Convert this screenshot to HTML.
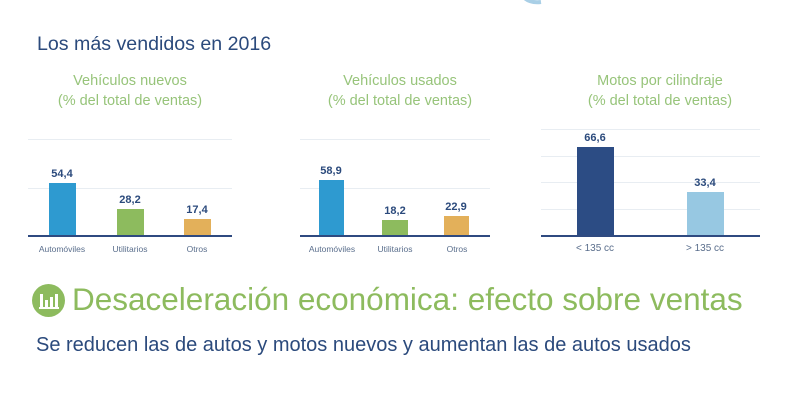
<!DOCTYPE html><html><head><meta charset="utf-8"><style>
body{margin:0;width:800px;height:400px;background:#fff;overflow:hidden;position:relative;font-family:"Liberation Sans",sans-serif}
.a{position:absolute;white-space:nowrap}
.st{color:#97c47a;font-size:14.5px;text-align:center;width:240px;line-height:20px}
.v{color:#2b4a7c;font-weight:bold;font-size:11px;text-align:center;width:40px}
.l{color:#5a6e8c;font-size:8.5px;text-align:center;width:70px}
.g{position:absolute;height:1px;background:#e8edf2}
.ax{position:absolute;height:2px;background:#2f4a80}
.b{position:absolute}
</style></head><body>
<svg class="a" style="left:515px;top:-12px" width="30" height="20"><path d="M4 2 Q10 16 26 14" stroke="#a9cfe6" stroke-width="4" fill="none"/></svg>
<div class="a" style="left:37px;top:33px;font-size:19.6px;color:#2b4a7c">Los más vendidos en 2016</div>
<div class="a st" style="left:10px;top:71px">Vehículos nuevos<br>(% del total de ventas)</div>
<div class="a st" style="left:280px;top:71px">Vehículos usados<br>(% del total de ventas)</div>
<div class="a st" style="left:540px;top:71px">Motos por cilindraje<br>(% del total de ventas)</div>

<div class="g" style="left:28px;top:139px;width:204px"></div><div class="g" style="left:28px;top:188px;width:204px"></div>
<div class="g" style="left:300px;top:139px;width:190px"></div><div class="g" style="left:300px;top:188px;width:190px"></div>
<div class="g" style="left:541px;top:129px;width:219px"></div><div class="g" style="left:541px;top:156px;width:219px"></div><div class="g" style="left:541px;top:182px;width:219px"></div><div class="g" style="left:541px;top:209px;width:219px"></div>

<div class="b" style="left:49px;top:183px;width:27px;height:53px;background:#2e9ad0"></div>
<div class="b" style="left:117px;top:209px;width:27px;height:27px;background:#8dbb5e"></div>
<div class="b" style="left:184px;top:219px;width:27px;height:17px;background:#e3b05a"></div>
<div class="b" style="left:319px;top:180px;width:25px;height:56px;background:#2e9ad0"></div>
<div class="b" style="left:382px;top:220px;width:26px;height:16px;background:#8dbb5e"></div>
<div class="b" style="left:444px;top:216px;width:25px;height:20px;background:#e3b05a"></div>
<div class="b" style="left:577px;top:147px;width:37px;height:89px;background:#2c4c84"></div>
<div class="b" style="left:687px;top:192px;width:37px;height:44px;background:#97c8e2"></div>

<div class="ax" style="left:28px;top:235px;width:204px"></div>
<div class="ax" style="left:300px;top:235px;width:190px"></div>
<div class="ax" style="left:541px;top:235px;width:219px"></div>

<div class="a v" style="left:42px;top:168px">54,4</div>
<div class="a v" style="left:110px;top:194px">28,2</div>
<div class="a v" style="left:177px;top:204px">17,4</div>
<div class="a v" style="left:311px;top:165px">58,9</div>
<div class="a v" style="left:375px;top:205px">18,2</div>
<div class="a v" style="left:436px;top:201px">22,9</div>
<div class="a v" style="left:575px;top:132px">66,6</div>
<div class="a v" style="left:685px;top:177px">33,4</div>

<div class="a l" style="left:27px;top:244px">Automóviles</div>
<div class="a l" style="left:95px;top:244px">Utilitarios</div>
<div class="a l" style="left:162px;top:244px">Otros</div>
<div class="a l" style="left:297px;top:244px">Automóviles</div>
<div class="a l" style="left:360px;top:244px">Utilitarios</div>
<div class="a l" style="left:422px;top:244px">Otros</div>
<div class="a l" style="left:560px;top:243px;font-size:10px">&lt; 135 cc</div>
<div class="a l" style="left:670px;top:243px;font-size:10px">&gt; 135 cc</div>

<svg class="a" style="left:32px;top:284px" width="33" height="33"><circle cx="16.5" cy="16.5" r="16.5" fill="#8dbb5e"/><g fill="#fff"><rect x="8" y="10" width="3" height="13"/><rect x="13" y="16" width="3" height="7"/><rect x="18" y="13" width="3" height="10"/><rect x="23" y="10" width="3" height="13"/><rect x="7" y="23" width="20" height="2"/></g></svg>
<div class="a" style="left:72px;top:281px;font-size:31.5px;color:#8dbb5e">Desaceleración económica: efecto sobre ventas</div>
<div class="a" style="left:36px;top:334px;font-size:20px;color:#2b4a7c">Se reducen las de autos y motos nuevos y aumentan las de autos usados</div>
</body></html>
